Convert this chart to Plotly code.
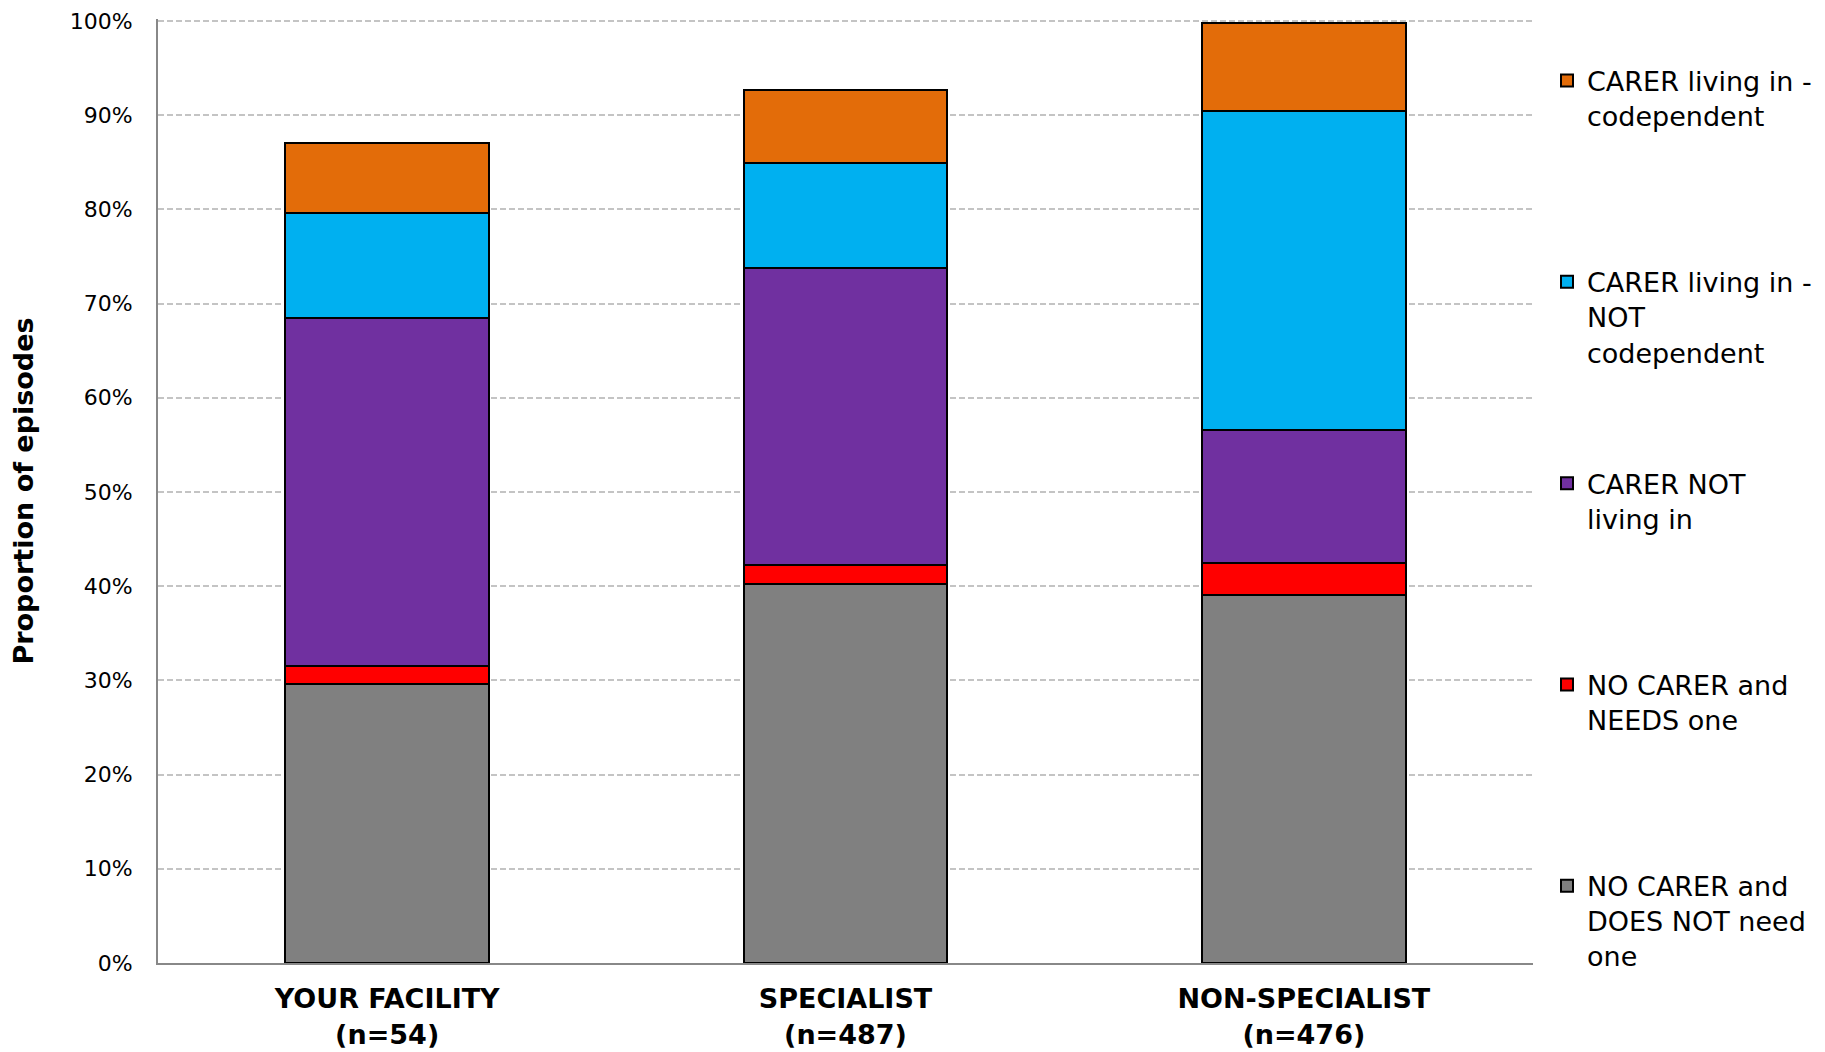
import plotly.graph_objects as go

categories = ["YOUR FACILITY<br>(n=54)", "SPECIALIST<br>(n=487)", "NON-SPECIALIST<br>(n=476)"]

series_names = [
    "NO CARER and<br>DOES NOT need<br>one",
    "NO CARER and<br>NEEDS one",
    "CARER NOT<br>living in",
    "CARER living in -<br>NOT<br>codependent",
    "CARER living in -<br>codependent",
]
no_carer_no_need = [29.6, 40.2, 39.1]
no_carer_needs = [1.9, 2.0, 3.4]
carer_not_living_in = [37.0, 31.6, 14.1]
carer_living_not_codep = [11.1, 11.1, 33.8]
carer_living_codep = [7.4, 7.8, 9.4]
series_values = [no_carer_no_need, no_carer_needs, carer_not_living_in,
                 carer_living_not_codep, carer_living_codep]
series_colors = ["#808080", "#FF0000", "#7030A0", "#00B0F0", "#E36C09"]

y_ticks = list(range(0, 101, 10))

NB = "\u00a0"

def pad3(name):
    n = name.count("<br>") + 1
    return name + ("<br>" + NB) * (3 - n)

fig = go.Figure()
for i, (name, vals, col) in enumerate(zip(series_names, series_values, series_colors)):
    fig.add_trace(go.Bar(
        x=categories, y=vals, name=pad3(name), legendgroup="g%d" % i,
        legendrank=1000 - i,
        marker=dict(color=col, line=dict(color="#000000", width=2)),
        hoverinfo="skip",
    ))

fig.update_layout(
    width=1825, height=1052,
    barmode="stack", bargap=0.555,
    plot_bgcolor="white", paper_bgcolor="white",
    margin=dict(l=150, r=300, t=11, b=97, autoexpand=False),
    font=dict(family="DejaVu Sans", color="#000000"),
    showlegend=True,
    legend=dict(
        traceorder="grouped", tracegroupgap=93, valign="top",
        xref="container", yref="container", x=1539/1825, y=1 - 48.5/1052,
        xanchor="left", yanchor="top", maxheight=1040,
        font=dict(family="DejaVu Sans", size=27, color="#000000"),
        bgcolor="rgba(0,0,0,0)",
    ),
    xaxis=dict(
        showline=True, linecolor="#888888", linewidth=2,
        ticks="", showgrid=False,
        tickfont=dict(family="DejaVu Sans", size=27, color="#000000", weight="bold"),
        ticklabelstandoff=11,
    ),
    yaxis=dict(
        range=[0, 100.2], tickvals=y_ticks, ticktext=["%d%%" % v for v in y_ticks],
        showline=True, linecolor="#888888", linewidth=2,
        showgrid=True, gridcolor="#C4C4C4", gridwidth=1.5, griddash="6px,3px",
        zeroline=False, ticks="", ticklabeloverflow="allow",
        tickfont=dict(family="DejaVu Sans", size=22, color="#000000"),
        ticklabelstandoff=19,
        title=dict(text="<b>Proportion of episodes</b>", standoff=30,
                   font=dict(family="DejaVu Sans", size=27, color="#000000")),
    ),
)

fig.write_html("out.html")
